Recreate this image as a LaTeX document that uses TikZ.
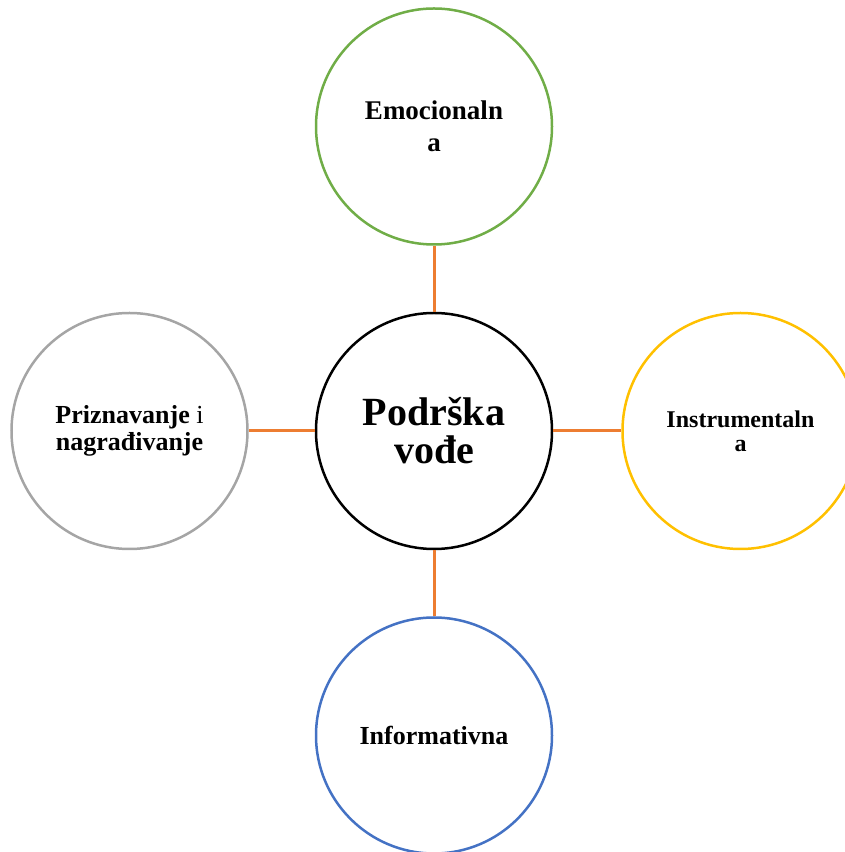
\documentclass[tikz,border=0pt]{standalone}
\usepackage{fontspec}
\setmainfont{Liberation Serif}
\usetikzlibrary{positioning}
\definecolor{emogreen}{HTML}{70AD47}
\definecolor{infoblue}{HTML}{4472C4}
\definecolor{recgray}{HTML}{A5A5A5}
\definecolor{instyellow}{HTML}{FFC000}
\definecolor{linkorange}{HTML}{ED7D31}
\begin{document}
\begin{tikzpicture}[x=1pt, y=1pt, node distance=66pt, main node/.style={circle, draw, line width=2.5pt, minimum size=236pt, inner sep=0pt, align=center, font=\bfseries\fontsize{26}{27}\selectfont}, link/.style={draw=linkorange, line width=3pt}]
    \useasboundingbox (0,0) rectangle (845,852);
    \node[main node, draw=black, font=\bfseries\fontsize{40}{38}\selectfont] (lead) at (434,421) {Podrška\\vođe};
    \node[main node, draw=emogreen, font=\bfseries\fontsize{27}{32}\selectfont] (emo) [above=of lead] {Emocionaln\\a};
    \node[main node, draw=infoblue] (info) [below=of lead] {Informativna};
    \node[main node, draw=recgray] (rec) [left=of lead] {Priznavanje {\mdseries i}\\nagrađivanje};
    \node[main node, draw=instyellow, font=\bfseries\fontsize{24}{24}\selectfont] (inst) [right=68pt of lead] {Instrumentaln\\a};

    \draw[link] (lead) -- (emo);
    \draw[link] (lead) -- (info);
    \draw[link] (lead) -- (rec);
    \draw[link] (lead) -- (inst);
\end{tikzpicture}
\end{document}
